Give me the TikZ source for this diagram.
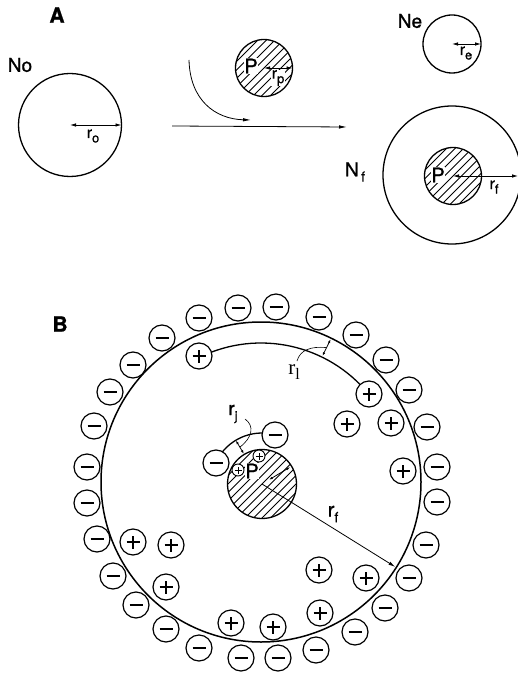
\documentclass[tikz,border=0pt]{standalone}
\usepackage{fontspec}
\setmainfont{TeX Gyre Heros}[FakeBold=1.0]
\newfontfamily\serifA{Liberation Serif}
\usetikzlibrary{arrows.meta,calc}
\newcommand\lsub[2][13]{\raisebox{-0.28em}{\fontsize{#1}{#1}\selectfont #2}}
\newcommand\hatchdisk[3]{%
  \begin{scope}
    \clip (#1,#2) circle[radius=#3];
    \foreach \k in {-9,...,9}
      \draw[line width=0.9pt] ({#1+\k*8.5-60},{#2+60}) -- ({#1+\k*8.5+60},{#2-60});
  \end{scope}}
\tikzset{
  every node/.style={inner sep=0pt, outer sep=0pt},
  ring/.style={circle, draw, line width=1.3pt, inner sep=0pt},
  ionneg/.style={circle, draw, fill=white, line width=1.2pt, minimum size=26pt,
    path picture={\draw[line width=2pt] ([xshift=-6.5pt]path picture bounding box.center) -- ([xshift=6.5pt]path picture bounding box.center);}},
  ionpos/.style={circle, draw, fill=white, line width=1.2pt, minimum size=26pt,
    path picture={\draw[line width=2pt] ([xshift=-6.5pt]path picture bounding box.center) -- ([xshift=6.5pt]path picture bounding box.center)
      ([yshift=-6.5pt]path picture bounding box.center) -- ([yshift=6.5pt]path picture bounding box.center);}},
  smallpos/.style={circle, draw, fill=white, line width=0.9pt, minimum size=12pt,
    path picture={\draw[line width=0.9pt] ([xshift=-3.5pt]path picture bounding box.center) -- ([xshift=3.5pt]path picture bounding box.center)
      ([yshift=-3.5pt]path picture bounding box.center) -- ([yshift=3.5pt]path picture bounding box.center);}},
  dimline/.style={line width=0.8pt, {Latex[length=6pt,width=3.5pt]}-{Latex[length=6pt,width=3.5pt]}},
  dimsmall/.style={line width=0.8pt, {Latex[length=4pt,width=2.5pt]}-{Latex[length=4pt,width=2.5pt]}},
  arrowline/.style={line width=0.8pt, -{Latex[length=8pt,width=3.5pt]}},
  leader/.style={line width=0.6pt},
  biglbl/.style={font=\bfseries\fontsize{21}{21}\selectfont},
  nlbl/.style={font=\fontsize{19}{19}\selectfont},
  plbl/.style={font=\fontsize{20}{20}\selectfont, fill=white, inner sep=0.8pt},
  rlbl/.style={font=\fontsize{16}{16}\selectfont},
}
\begin{document}
\begin{tikzpicture}[x=1pt,y=-1pt]
\useasboundingbox (0,0) rectangle (518,676);
% ---------------- Part A ----------------
\node[biglbl] (labA) at (57,15) {A};
\node[nlbl] (labNo) at (20,65) {No};
\node[ring, minimum size=103pt] (No) at (70,125) {};
\draw[dimline] (No.center) -- (No.east);
\node[rlbl] (ro) at (93,136) {r\lsub{o}};

\coordinate (cs) at (189,60);
\coordinate (ce) at (251,120);
\draw[arrowline] (cs) .. controls (190,100) and (215,119) .. (ce);
\coordinate (as) at (172,126);
\coordinate (ae) at (347,127);
\draw[arrowline] (as) -- (ae);

\hatchdisk{264}{68}{28.5}
\node[ring, minimum size=57pt] (Pa) at (264,68) {};
\node[plbl] (PaL) at (251,66) {P};
\draw[dimline] (Pa.center) -- (Pa.east);
\node[rlbl, fill=white, inner sep=0.5pt] (rp) at (278,78) {r\lsub{p}};

\node[nlbl] (labNe) at (410,21) {Ne};
\node[ring, minimum size=58pt] (Ne) at (452,44) {};
\draw[dimline] (Ne.center) -- (Ne.east);
\node[rlbl] (re) at (466,53) {r\lsub{e}};

\node[nlbl] (labNf) at (355,172) {N\lsub[14]{\,f}};
\node[ring, minimum size=138pt] (Nf) at (452,175) {};
\hatchdisk{453}{176}{28.5}
\node[ring, minimum size=57pt] (Pf) at (453,176) {};
\node[plbl] (PfL) at (438,175) {P};
\coordinate (nfe) at (518,176);
\draw[dimline] (Pf.center) -- (nfe);
\node[rlbl] (rf) at (494,187) {r\lsub{f}};

% ---------------- Part B ----------------
\node[biglbl] (labB) at (60,324) {B};
\node[circle, draw, line width=1.5pt, minimum size=320pt] (BC) at (261,482) {};
\hatchdisk{262}{484}{34.5}
\node[ring, minimum size=69pt] (PB) at (262,484) {};

% inner layer arc (r_l)
\draw[line width=1.3pt] (BC.center) ++(-116:139) arc[start angle=-116, end angle=-39, radius=139];
\coordinate (rla) at ($(BC.center)+(-64:140)$);
\coordinate (rlb) at ($(BC.center)+(-64:159)$);
\draw[dimsmall] (rla) -- (rlb);
\coordinate (rlm) at ($(rla)!0.5!(rlb)$);
\node[font=\serifA\fontsize{21}{21}\selectfont] (rl) at (294,372) {r\lsub[16]{l}};
\draw[leader] (297,361) .. controls (300,350) and (311,346) .. (rlm);

% inner arc (r_j)
\draw[line width=1.3pt] (PB.center) ++(-154:51) arc[start angle=-154, end angle=-75, radius=51];
\coordinate (rja) at ($(PB.center)+(-121:35)$);
\coordinate (rjb) at ($(PB.center)+(-121:51)$);
\draw[dimsmall] (rja) -- (rjb);
\coordinate (rjm) at ($(rja)!0.5!(rjb)$);
\node[font=\fontsize{19}{19}\selectfont] (rj) at (233,414) {r\lsub[13]{j}};
\draw[leader] (245,419) .. controls (255,426) and (252,438) .. (rjm);

% radius arrows inside P and r_f
\coordinate (ppa) at ($(PB.center)+(-31:8)$);
\coordinate (ppb) at ($(PB.center)+(-31:33)$);
\draw[dimsmall] (ppa) -- (ppb);
\coordinate (rfe) at ($(BC.center)+(32.3:159)$);
\draw[line width=0.8pt, -{Latex[length=7pt,width=3.5pt]}] (PB.center) -- (rfe);
\node[font=\fontsize{20}{20}\selectfont] (rfB) at (333,514) {r\lsub[14]{f}};

\node[plbl] (PBL) at (252,471) {P};
\node[smallpos] (sp1) at (238,470) {};
\node[smallpos] (sp2) at (259,456) {};

% negative ions
\foreach \x/\y [count=\i] in {238/308,199/318,162/338,133/365,110/392,94/426,87/467,87/503,97/539,113/576,136/605,166/629,199/648,241/658,278/658,316/650,355/632,385/608,409/578,426/545,437/502,437/467,427/427,409/390,386/360,356/335,319/317,276/307,216/463,275/435}
  \node[ionneg] (m\i) at (\x,\y) {};
% positive ions
\foreach \x/\y [count=\i] in {199/356,369/394,347/424,391/423,403/471,133/542,171/545,166/587,231/623,319/570,366/578,320/613,273/627}
  \node[ionpos] (p\i) at (\x,\y) {};
\end{tikzpicture}
\end{document}
